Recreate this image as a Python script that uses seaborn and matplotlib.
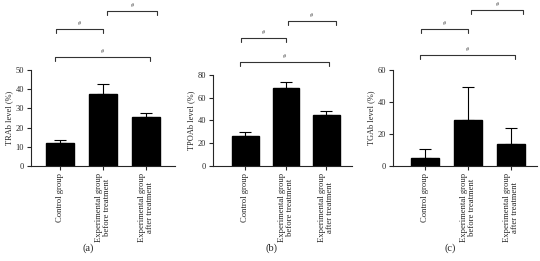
import matplotlib
matplotlib.use("Agg")
import matplotlib.pyplot as plt
import matplotlib.transforms as mtransforms
import seaborn as sns
import pandas as pd

sns.set_style("ticks")
plt.rcParams['font.family'] = ['Liberation Serif', 'DejaVu Serif']

categories = ["Control group", "Experimental group\nbefore treatment", "Experimental group\nafter treatment"]
trab_mean = [12.2, 37.3, 25.3]
trab_upper = [13.4, 42.5, 27.8]
tpoab_mean = [26.1, 68.9, 44.6]
tpoab_upper = [29.6, 73.9, 48.4]
tgab_mean = [5.2, 29.0, 14.0]
tgab_upper = [10.4, 49.6, 24.0]

ylabels = ["TRAb level (%)", "TPOAb level (%)", "TGAb level (%)"]
panel_labels = ["(a)", "(b)", "(c)"]
yticks = [[0, 10, 20, 30, 40, 50], [0, 20, 40, 60, 80], [0, 20, 40, 60]]

fig = plt.figure(figsize=(5.4, 2.61), dpi=100)
positions = [[0.0574, 0.364, 0.2667, 0.368],
             [0.3944, 0.364, 0.2574, 0.3487],
             [0.7278, 0.364, 0.2667, 0.368]]
xlims = [(-0.67, 2.67), (-0.80, 2.63), (-0.74, 2.6)]
brackets = [
    [(-0.09, 1.0, 1.427), (1.09, 2.26, 1.615), (-0.12, 2.09, 1.135)],
    [(-0.11, 1.0, 1.407), (1.05, 2.23, 1.593), (-0.14, 2.06, 1.143)],
    [(-0.09, 1.0, 1.427), (1.07, 2.28, 1.625), (-0.12, 2.09, 1.156)],
]
label_pos = [0.163, 0.502, 0.833]

means = [trab_mean, tpoab_mean, tgab_mean]
uppers = [trab_upper, tpoab_upper, tgab_upper]

for i in range(3):
    ax = fig.add_axes(positions[i])
    df = pd.DataFrame({"group": categories, "value": means[i]})
    sns.barplot(data=df, x="group", y="value", color="black", width=0.65,
                ax=ax, saturation=1, edgecolor="black")
    err = [u - m for u, m in zip(uppers[i], means[i])]
    ax.errorbar(range(3), means[i], yerr=[[0, 0, 0], err], fmt="none",
                ecolor="black", elinewidth=0.8, capsize=4, capthick=0.8)
    ax.set_xlim(*xlims[i])
    ax.set_ylim(0, yticks[i][-1])
    ax.set_yticks(yticks[i])
    ax.set_xlabel("")
    ax.set_ylabel(ylabels[i], fontsize=6, labelpad=2)
    ax.set_xticks(range(3))
    ax.set_xticklabels(categories, rotation=90, fontsize=6.2, va="top", ha="center",
                       linespacing=1.0)
    ax.tick_params(axis="y", labelsize=6)
    ax.tick_params(axis="both", width=0.8, length=3, pad=2)
    for s in ["top", "right"]:
        ax.spines[s].set_visible(False)
    for s in ["left", "bottom"]:
        ax.spines[s].set_linewidth(0.8)
    trans = mtransforms.blended_transform_factory(ax.transData, ax.transAxes)
    for x0, x1, yb in brackets[i]:
        ax.plot([x0, x0, x1, x1], [yb - 0.04, yb, yb, yb - 0.04], color="#333333",
                lw=0.8, transform=trans, clip_on=False)
        ax.text((x0 + x1) / 2, yb + 0.03, "#", transform=trans, ha="center",
                va="bottom", fontsize=4.5, color="#444444")
    fig.text(label_pos[i], 0.05, panel_labels[i], ha="center", va="center", fontsize=7.5)

fig.savefig("out.png", dpi=100)
